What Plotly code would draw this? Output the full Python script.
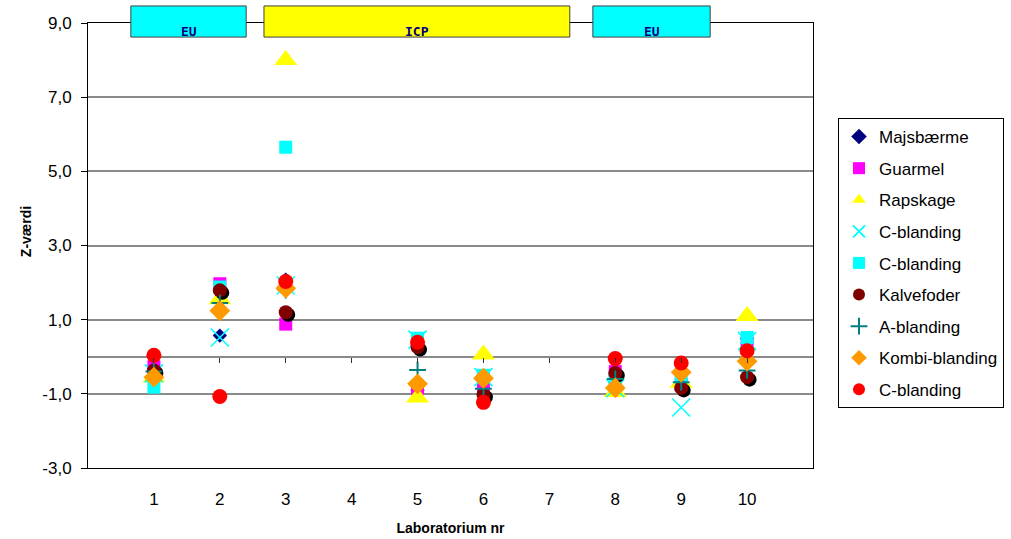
import plotly.graph_objects as go

# ---------------- data ----------------
labs = [1, 2, 3, 5, 6, 8, 9, 10]

majsbaerme = [-0.40, 0.57, 2.08, -0.90, -0.85, -0.70, -0.75, 0.50]
guarmel = [-0.27, 1.97, 0.88, -0.86, -0.80, -0.40, -0.75, 0.35]
rapskage = [-0.55, 1.55, 8.00, -1.10, 0.06, -0.95, -0.70, 1.10]
c_blanding_x = [-0.45, 0.52, 1.92, 0.46, -0.55, -0.85, -1.37, 0.42]
c_blanding_sq = [-0.82, 1.88, 5.65, 0.50, -0.50, -0.60, -0.55, 0.52]
kalvefoder = [-0.37, 1.79, 1.20, 0.26, -1.02, -0.44, -0.84, -0.55]
a_blanding = [-0.40, 1.45, 1.80, -0.36, -0.86, -0.60, -0.69, -0.37]
kombi_blanding = [-0.55, 1.24, 1.85, -0.73, -0.58, -0.84, -0.42, -0.12]
c_blanding_red = [0.04, -1.07, 2.03, 0.39, -1.23, -0.05, -0.17, 0.16]

x_tick_values = [1, 2, 3, 4, 5, 6, 7, 8, 9, 10]
x_tick_labels = ["1", "2", "3", "4", "5", "6", "7", "8", "9", "10"]
y_tick_values = [-3, -1, 1, 3, 5, 7, 9]
y_tick_labels = ["-3,0", "-1,0", "1,0", "3,0", "5,0", "7,0", "9,0"]

x_range = [0, 11]
y_range = [-3, 9]

# method group boxes (label, x start, x end in lab units)
box_labels = ["EU", "ICP", "EU"]
box_x0 = [0.65, 2.67, 7.66]
box_x1 = [2.40, 7.31, 9.44]
box_colors = ["#00FFFF", "#FFFF00", "#00FFFF"]
box_y0, box_y1 = 8.62, 9.46   # in z-value units

# ---------------- figure ----------------
W, H = 1011, 539
ML, MR, MT, MB = 88, 198, 23, 71
plot_w = W - ML - MR
plot_h = H - MT - MB

def y_to_paper(v):
    return (v - y_range[0]) / (y_range[1] - y_range[0])

series_main = [
    ("Majsbærme", majsbaerme, "diamond", 11, "#000080", None),
    ("Guarmel", guarmel, "square", 13, "#FF00FF", None),
    ("Rapskage", rapskage, "triangle-up", 20, "#FFFF00", None),
    ("C-blanding", c_blanding_x, "x-thin", 18, "#00FFFF", dict(color="#00FFFF", width=1.6)),
    ("C-blanding", c_blanding_sq, "square", 13, "#00FFFF", None),
]
series_top = [
    ("Kalvefoder", kalvefoder, "circle", 14, "#800000", None),
    ("A-blanding", a_blanding, "cross-thin", 12, "#008080", dict(color="#008080", width=2)),
    ("Kombi-blanding", kombi_blanding, "diamond", 16, "#FF9900", None),
    ("C-blanding", c_blanding_red, "circle", 15, "#FF0000", None),
]

fig = go.Figure()
gi = 0

def add_series(name, vals, symbol, size, color, line, xa, ya, group):
    marker = dict(symbol=symbol, size=size, color=color)
    if line is not None:
        marker["line"] = line
    else:
        marker["line"] = dict(width=0)
    fig.add_trace(go.Scatter(x=labs, y=vals, mode="markers", name=name,
                             marker=marker, xaxis=xa, yaxis=ya,
                             legendgroup=group, cliponaxis=False))

for s in series_main:
    add_series(*s, "x", "y", f"g{gi}")
    gi += 1

# shadow of Kalvefoder (drawn on a slightly shifted overlay)
fig.add_trace(go.Scatter(x=labs, y=kalvefoder, mode="markers", name="Kalvefoder",
                         marker=dict(symbol="circle", size=14, color="#000000", line=dict(width=0)),
                         xaxis="x2", yaxis="y2", showlegend=False, legendgroup=f"g{gi}",
                         hoverinfo="skip"))

for s in series_top:
    add_series(*s, "x3", "y3", f"g{gi}")
    gi += 1

shadow_px = 2.5
dx = shadow_px * (x_range[1] - x_range[0]) / plot_w
dy = shadow_px * (y_range[1] - y_range[0]) / plot_h

# boxes
for lab, x0, x1, col in zip(box_labels, box_x0, box_x1, box_colors):
    fig.add_shape(type="rect", xref="x", yref="paper", x0=x0, x1=x1,
                  y0=y_to_paper(box_y0), y1=y_to_paper(box_y1),
                  fillcolor=col, line=dict(color="#404040", width=1), layer="above")
    fig.add_annotation(xref="x", yref="paper", x=(x0 + x1) / 2,
                       y=y_to_paper((box_y0 + box_y1) / 2), text="<b>" + lab + "</b>",
                       showarrow=False, font=dict(family="DejaVu Sans Mono", size=13, color="#000080"))

# y title
fig.add_annotation(xref="paper", yref="paper", x=(16 - ML) / plot_w, y=0.53,
                   text="<b>Z-værdi</b>", textangle=-90, showarrow=False,
                   font=dict(family="Liberation Sans, Arial", size=14, color="black"))

fig.update_layout(
    width=W, height=H,
    margin=dict(l=ML, r=MR, t=MT, b=MB, autoexpand=False),
    plot_bgcolor="white", paper_bgcolor="white",
    font=dict(family="Liberation Sans, Arial", size=17, color="black"),
    xaxis=dict(range=x_range, tickvals=x_tick_values, ticktext=x_tick_labels,
               ticks="", showline=True, linecolor="black", linewidth=1, mirror=True,
               showgrid=False, zeroline=False, ticklabelstandoff=16, automargin=False,
               title=dict(text="<b>Laboratorium nr</b>", font=dict(size=14), standoff=14)),
    yaxis=dict(range=y_range, tickvals=y_tick_values, ticktext=y_tick_labels,
               ticks="outside", ticklen=6, tickcolor="black", showline=True,
               linecolor="black", linewidth=1, mirror=True,
               showgrid=True, gridcolor="#8a8a8a", gridwidth=1.5,
               zeroline=True, zerolinecolor="#8a8a8a", zerolinewidth=1.5,
               ticklabelstandoff=6, automargin=False),
    xaxis2=dict(overlaying="x", range=[x_range[0] - dx, x_range[1] - dx], visible=False),
    yaxis2=dict(overlaying="y", range=[y_range[0] + dy, y_range[1] + dy], visible=False),
    xaxis3=dict(overlaying="x", range=x_range, anchor="free", position=y_to_paper(0),
                tickvals=x_tick_values, ticks="outside", ticklen=5, tickcolor="#333333",
                showticklabels=False, showline=False, showgrid=False, zeroline=False),
    yaxis3=dict(overlaying="y", range=y_range, visible=False),
    legend=dict(xref="container", yref="container", x=838 / W, y=1 - 118 / H,
                xanchor="left", yanchor="top", maxheight=420,
                bordercolor="black", borderwidth=1, bgcolor="white",
                font=dict(size=17), itemsizing="constant", tracegroupgap=6.5),
    showlegend=True,
)

fig.write_html("out.html")
